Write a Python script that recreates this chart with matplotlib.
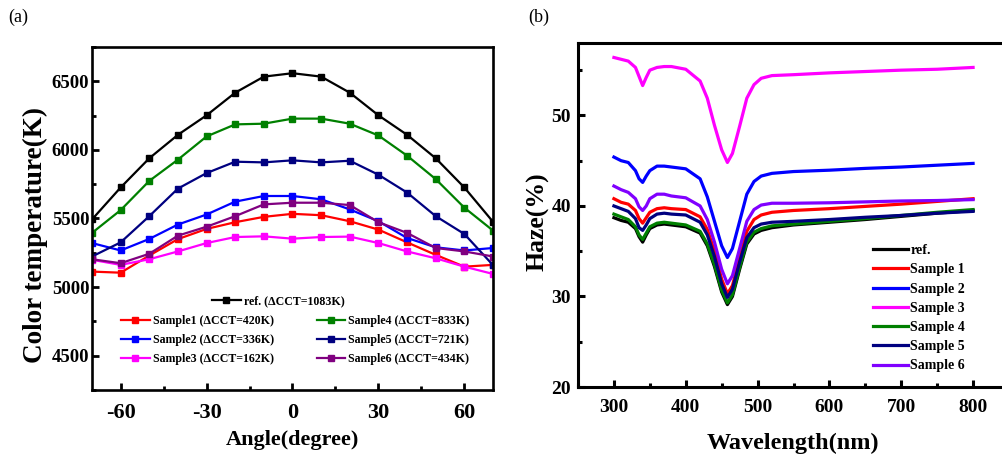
import matplotlib
matplotlib.use("Agg")
import matplotlib.pyplot as plt
from matplotlib.ticker import MultipleLocator

plt.rcParams['font.family'] = ['Liberation Serif', 'DejaVu Serif']
plt.rcParams['axes.unicode_minus'] = False

# ---------------- Panel (a) data ----------------
angles = [-70, -60, -50, -40, -30, -20, -10, 0, 10, 20, 30, 40, 50, 60, 70]
cct_ref = [5493, 5726, 5939, 6110, 6252, 6417, 6534, 6559, 6534, 6417, 6252, 6110, 5939, 5726, 5476]
cct_s1 = [5113, 5105, 5230, 5350, 5424, 5473, 5512, 5534, 5524, 5480, 5419, 5326, 5235, 5149, 5162]
cct_s2 = [5321, 5267, 5351, 5456, 5529, 5623, 5664, 5664, 5640, 5566, 5480, 5358, 5290, 5267, 5285]
cct_s3 = [5199, 5162, 5203, 5260, 5321, 5365, 5370, 5353, 5365, 5368, 5321, 5260, 5210, 5149, 5096]
cct_s4 = [5395, 5561, 5774, 5929, 6098, 6186, 6191, 6228, 6228, 6191, 6105, 5958, 5787, 5579, 5412]
cct_s5 = [5223, 5326, 5517, 5718, 5831, 5914, 5909, 5924, 5909, 5921, 5819, 5689, 5517, 5387, 5160]
cct_s6 = [5203, 5174, 5243, 5375, 5440, 5517, 5603, 5615, 5615, 5598, 5473, 5395, 5285, 5260, 5223]
labels_a = ["ref. (ΔCCT=1083K)", "Sample1 (ΔCCT=420K)", "Sample2 (ΔCCT=336K)",
            "Sample3 (ΔCCT=162K)", "Sample4 (ΔCCT=833K)", "Sample5 (ΔCCT=721K)",
            "Sample6 (ΔCCT=434K)"]

# ---------------- Panel (b) data ----------------
wl = [300, 310, 320, 330, 335, 340, 345, 350, 360, 370, 380, 400, 420, 430, 440,
      450, 458, 465, 475, 485, 495, 505, 520, 550, 600, 650, 700, 750, 800]
haze_ref = [38.7, 38.4, 38.2, 37.5, 36.6, 36.0, 36.8, 37.5, 37.9, 38.0, 37.9, 37.7, 37.0, 35.6, 33.3,
            30.5, 29.1, 30.0, 33.0, 35.8, 36.9, 37.3, 37.6, 37.9, 38.2, 38.5, 38.85, 39.2, 39.5]
haze_s1 = [40.8, 40.4, 40.2, 39.5, 38.6, 38.1, 38.7, 39.3, 39.7, 39.8, 39.7, 39.6, 38.8, 37.4, 35.0,
           31.9, 30.3, 31.2, 34.2, 37.2, 38.5, 39.0, 39.3, 39.5, 39.7, 39.95, 40.2, 40.5, 40.8]
haze_s2 = [45.4, 45.0, 44.8, 43.9, 43.0, 42.6, 43.3, 43.9, 44.4, 44.4, 44.3, 44.1, 43.0, 41.0, 38.3,
           35.6, 34.3, 35.3, 38.3, 41.3, 42.7, 43.3, 43.6, 43.8, 43.95, 44.15, 44.3, 44.5, 44.7]
haze_s3 = [56.4, 56.2, 56.0, 55.3, 54.3, 53.3, 54.2, 55.0, 55.3, 55.4, 55.4, 55.1, 53.8, 51.9, 48.9,
           46.2, 44.8, 45.8, 48.8, 51.9, 53.4, 54.1, 54.4, 54.5, 54.7, 54.85, 55.0, 55.1, 55.3]
haze_s4 = [39.1, 38.8, 38.5, 37.7, 36.8, 36.3, 37.0, 37.7, 38.1, 38.2, 38.1, 37.9, 37.2, 35.8, 33.5,
           30.7, 29.3, 30.2, 33.2, 36.0, 37.1, 37.5, 37.8, 38.0, 38.3, 38.6, 38.95, 39.3, 39.6]
haze_s5 = [40.0, 39.7, 39.4, 38.6, 37.6, 37.3, 37.9, 38.6, 39.1, 39.2, 39.1, 39.0, 38.2, 36.8, 34.4,
           31.4, 29.9, 30.8, 33.8, 36.5, 37.6, 38.0, 38.2, 38.3, 38.5, 38.75, 38.95, 39.2, 39.4]
haze_s6 = [42.2, 41.8, 41.5, 40.8, 39.9, 39.5, 40.0, 40.8, 41.3, 41.3, 41.1, 40.9, 40.0, 38.5, 36.0,
           33.0, 31.4, 32.3, 35.3, 38.3, 39.6, 40.1, 40.3, 40.3, 40.35, 40.45, 40.55, 40.6, 40.7]
labels_b = ["ref.", "Sample 1", "Sample 2", "Sample 3", "Sample 4", "Sample 5", "Sample 6"]

colors_a = ["#000000", "#ff0000", "#0000ff", "#ff00ff", "#008000", "#000080", "#800080"]
colors_b = ["#000000", "#ff0000", "#0000ff", "#ff00ff", "#008000", "#000080", "#8000ff"]

fig = plt.figure(figsize=(10.03, 4.62), dpi=100)

# ================= Panel (a) =================
axa = fig.add_axes([92 / 1003, 1 - 390 / 462, 401 / 1003, 343 / 462])
series_a = [cct_ref, cct_s1, cct_s2, cct_s3, cct_s4, cct_s5, cct_s6]
lines_a = []
for ys, c, lab in zip(series_a, colors_a, labels_a):
    ln, = axa.plot(angles, ys, '-s', color=c, lw=1.6, ms=4.2, label=lab)
    lines_a.append(ln)
axa.set_xlim(-70, 70)
axa.set_ylim(4250, 6750)
axa.xaxis.set_major_locator(MultipleLocator(30))
axa.xaxis.set_minor_locator(MultipleLocator(15))
axa.yaxis.set_major_locator(MultipleLocator(500))
axa.yaxis.set_minor_locator(MultipleLocator(250))
axa.tick_params(which='both', direction='in', top=False, right=False)
axa.tick_params(which='major', length=5, width=2)
axa.tick_params(which='minor', length=3, width=2)
axa.tick_params(axis='x', which='major', labelsize=16, pad=9)
axa.tick_params(axis='y', which='major', labelsize=13.5, pad=2)
for lbl in axa.get_xticklabels() + axa.get_yticklabels():
    lbl.set_fontweight('bold')
for sp in axa.spines.values():
    sp.set_linewidth(1.9)

leg1 = axa.legend([lines_a[0]], [labels_a[0]], loc='upper left',
                  bbox_to_anchor=((212 - 92) / 401, (390 - 295) / 343),
                  frameon=False, borderpad=0, borderaxespad=0, handlelength=2.4,
                  handletextpad=0.25, prop={'weight': 'bold', 'size': 8.6})
axa.add_artist(leg1)
axa.legend(lines_a[1:], labels_a[1:], loc='upper left', ncol=2,
           bbox_to_anchor=((121 - 92) / 401, (390 - 315) / 343),
           frameon=False, borderpad=0, borderaxespad=0, handlelength=2.4,
           handletextpad=0.25, labelspacing=0.6, columnspacing=3.6,
           prop={'weight': 'bold', 'size': 8.6})

fig.text(292.5 / 1003, 1 - 440 / 462, "Angle(degree)", ha='center', va='center',
         fontsize=16, fontweight='bold')
fig.text(35 / 1003, 1 - 235 / 462, "Color temperature(K)", ha='center', va='center',
         rotation=90, fontsize=19.5, fontweight='bold')
fig.text(8 / 1003, 1 - 17 / 462, "(a)", ha='left', va='center', fontsize=13)

# ================= Panel (b) =================
axb = fig.add_axes([578 / 1003, 1 - 387 / 462, 431 / 1003, 344 / 462])
series_b = [haze_ref, haze_s1, haze_s2, haze_s3, haze_s4, haze_s5, haze_s6]
for ys, c, lab in zip(series_b, colors_b, labels_b):
    axb.plot(wl, ys, '-', color=c, lw=2.3, label=lab)
axb.set_xlim(250, 850)
axb.set_ylim(20, 58)
axb.xaxis.set_major_locator(MultipleLocator(100))
axb.xaxis.set_minor_locator(MultipleLocator(50))
axb.yaxis.set_major_locator(MultipleLocator(10))
axb.yaxis.set_minor_locator(MultipleLocator(5))
axb.tick_params(which='both', direction='in', top=False, right=False)
axb.tick_params(which='major', length=5, width=2.2)
axb.tick_params(which='minor', length=3, width=2.2)
axb.tick_params(axis='x', which='major', labelsize=14, pad=9)
axb.tick_params(axis='y', which='major', labelsize=14, pad=5)
for lbl in axb.get_xticklabels() + axb.get_yticklabels():
    lbl.set_fontweight('bold')
for sp in axb.spines.values():
    sp.set_linewidth(2.2)
axb.legend(loc='upper left', bbox_to_anchor=((873 - 578) / 431, (387 - 244) / 344),
           frameon=False, borderpad=0, borderaxespad=0, handlelength=2.5,
           handletextpad=0.2, labelspacing=0.45,
           prop={'weight': 'bold', 'size': 10})

fig.text(793 / 1003, 1 - 443 / 462, "Wavelength(nm)", ha='center', va='center',
         fontsize=17.5, fontweight='bold')
fig.text(538 / 1003, 1 - 222 / 462, "Haze(%)", ha='center', va='center',
         rotation=90, fontsize=18.5, fontweight='bold')
fig.text(528 / 1003, 1 - 17 / 462, "(b)", ha='left', va='center', fontsize=13)

fig.savefig("out.png", dpi=100)
